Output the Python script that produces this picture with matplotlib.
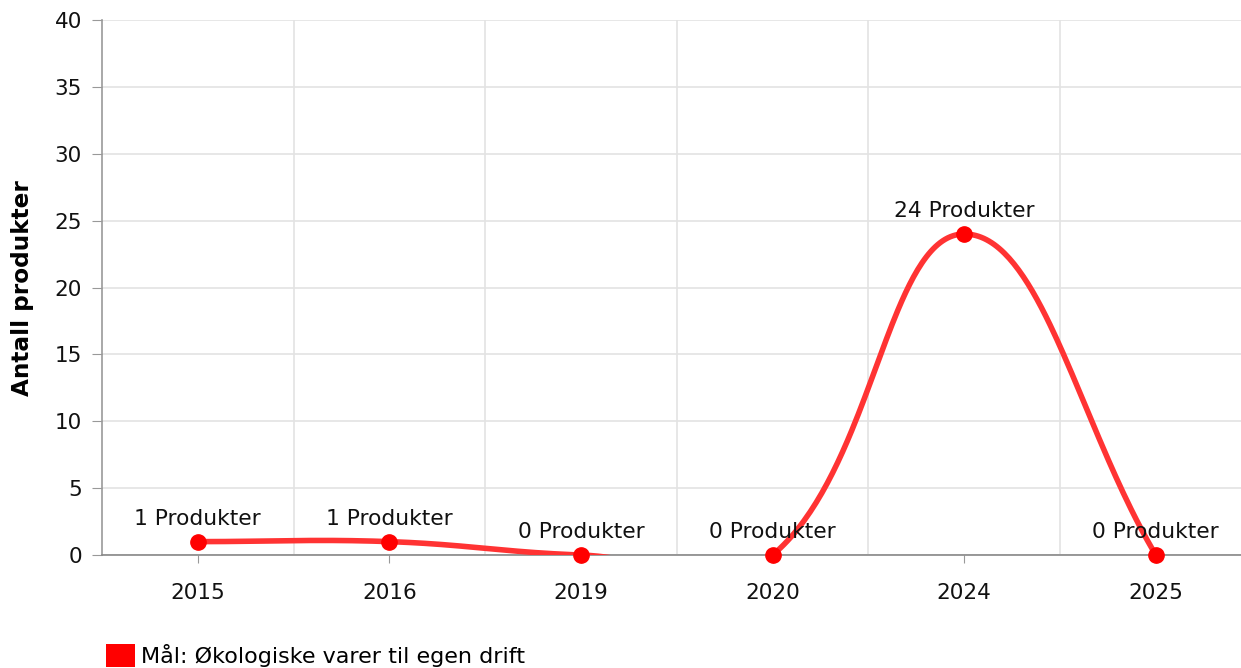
import numpy as np
import matplotlib.pyplot as plt
from matplotlib.patches import Patch

years = ["2015", "2016", "2019", "2020", "2024", "2025"]
counts = [1, 1, 0, 0, 24, 0]
label_suffix = " Produkter"
series_name = "Mål: Økologiske varer til egen drift"
y_label = "Antall produkter"

plt.rcParams['font.family'] = ['DejaVu Sans']


def spline_path(ax, xs, ys, tension=0.4, steps=80):
    """Bezier spline through points, control points computed in pixel space."""
    pts = ax.transData.transform(np.column_stack([xs, ys]))
    n = len(pts)
    ctrl = []
    for i in range(n):
        cur = pts[i]
        prev = pts[i - 1] if i > 0 else cur
        nxt = pts[i + 1] if i < n - 1 else cur
        d01 = np.hypot(*(cur - prev))
        d12 = np.hypot(*(nxt - cur))
        tot = d01 + d12
        s01 = d01 / tot if tot else 0
        s12 = d12 / tot if tot else 0
        fa, fb = tension * s01, tension * s12
        ctrl.append((cur - fa * (nxt - prev), cur + fb * (nxt - prev)))
    t = np.linspace(0, 1, steps)[:, None]
    out = []
    for i in range(n - 1):
        p0, p3 = pts[i], pts[i + 1]
        p1, p2 = ctrl[i][1], ctrl[i + 1][0]
        seg = ((1 - t) ** 3) * p0 + 3 * ((1 - t) ** 2) * t * p1 + 3 * (1 - t) * t**2 * p2 + t**3 * p3
        out.append(seg)
    disp = np.vstack(out)
    data = ax.transData.inverted().transform(disp)
    return data[:, 0], data[:, 1]


fig = plt.figure(figsize=(12.41, 6.68), dpi=100)
ax = fig.add_axes([102 / 1241, 1 - 555 / 668, 1 - 102 / 1241, (555 - 20) / 668])

x = np.arange(len(years))
ax.set_xlim(-0.5, -0.5 + 1139 / 191.6)
ax.set_ylim(0, 40)

sx, sy = spline_path(ax, x, counts)
ax.plot(sx, sy, color='#ff3333', lw=4, solid_capstyle='round', zorder=3)
ax.plot(x, counts, 'o', color='#ff0000', ms=11, zorder=4, clip_on=False)

for xi, v in zip(x, counts):
    ax.annotate(f"{v}{label_suffix}", (xi, v), xytext=(0, 12), textcoords='offset points',
                ha='center', va='baseline', fontsize=15.7, color='#111111', zorder=5)

ax.set_yticks(range(0, 41, 5))
ax.set_xticks(x)
ax.set_xticklabels(years)
ax.set_xticks(np.arange(0.5, len(years) - 0.5, 1), minor=True)

ax.grid(axis='y', color='#e3e3e3', lw=1.2)
ax.grid(axis='x', which='minor', color='#e3e3e3', lw=1.2)
ax.grid(axis='x', which='major', visible=False)
ax.set_axisbelow(True)

for s in ['top', 'right']:
    ax.spines[s].set_visible(False)
ax.spines['left'].set_color('#999999')
ax.spines['bottom'].set_color('#888888')
ax.spines['left'].set_linewidth(1.2)
ax.spines['bottom'].set_linewidth(1.2)

ax.tick_params(axis='y', length=7.5, color='#999999', labelsize=15.5, pad=7, labelcolor='#111111')
ax.tick_params(axis='x', which='major', length=6, color='#999999', labelsize=15.5, pad=14,
               labelcolor='#111111')
ax.tick_params(axis='x', which='minor', length=0)

fig.text(22 / 1241, 1 - 288 / 668, y_label, rotation=90, fontsize=16.7, fontweight='bold',
         ha='center', va='center')

handle = Patch(facecolor='#ff0000', edgecolor='none')
fig.legend([handle], [series_name], loc='lower left', bbox_to_anchor=(97 / 1241, -0.012),
           frameon=False, fontsize=16, handlelength=1.3, handleheight=1.25,
           handletextpad=0.3, borderaxespad=0)

fig.savefig('out.png', dpi=100)
